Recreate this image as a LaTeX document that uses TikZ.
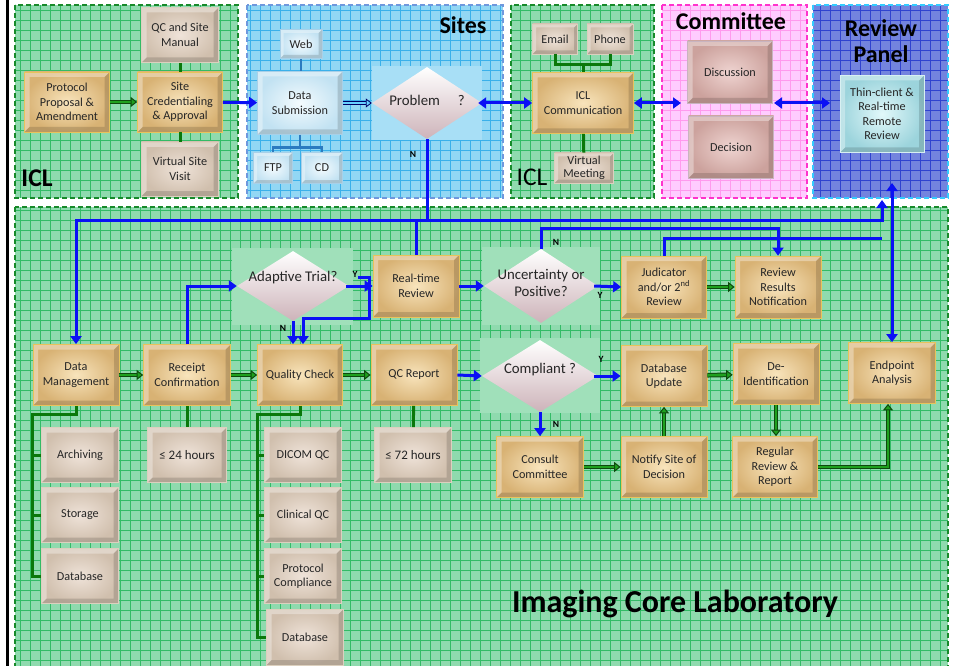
\documentclass[tikz,border=0pt]{standalone}
\usepackage{fontspec}
\setmainfont{Carlito}
\usetikzlibrary{shapes.geometric,arrows.meta,calc}
\definecolor{tanI}{HTML}{F8E4BC}\definecolor{tanO}{HTML}{D8B274}\definecolor{tanB}{HTML}{E8C35A}
\definecolor{gryI}{HTML}{EFE3D9}\definecolor{gryO}{HTML}{D0BFAD}\definecolor{gryB}{HTML}{DCD0BE}
\definecolor{bluI}{HTML}{F4FBFE}\definecolor{bluO}{HTML}{C2E2F2}\definecolor{bluB}{HTML}{A8D0E8}
\definecolor{pnkI}{HTML}{EFD4D1}\definecolor{pnkO}{HTML}{CCA29D}\definecolor{pnkB}{HTML}{C8B4C0}
\definecolor{cyaI}{HTML}{E2F8FA}\definecolor{cyaO}{HTML}{9CD4DC}\definecolor{cyaB}{HTML}{D8F0F2}
\definecolor{gFill}{HTML}{8FDAAE}\definecolor{gGrid}{HTML}{33BB66}\definecolor{gBorder}{HTML}{178A2A}
\definecolor{sFill}{HTML}{92D7F4}\definecolor{sGrid}{HTML}{3AB0EA}\definecolor{sBorder}{HTML}{6F98DD}
\definecolor{cFill}{HTML}{FFCCFF}\definecolor{cGrid}{HTML}{FF9AEE}\definecolor{cBorder}{HTML}{FF33CC}
\definecolor{rFill}{HTML}{7384DE}\definecolor{rGrid}{HTML}{2F43CF}\definecolor{rBorder}{HTML}{33CCFF}
\definecolor{myBlue}{HTML}{0A10F5}\definecolor{siteLine}{HTML}{2B7BC0}
\definecolor{gLine}{HTML}{0A780A}\definecolor{gDark}{HTML}{0D4A0D}\definecolor{gMid}{HTML}{1FA01F}
\definecolor{diaM}{HTML}{F6F0F2}\definecolor{diaB}{HTML}{CDB3B9}
\newcommand\mypanel[7]{%
  \fill[#5] (#1,#2) rectangle (#3,#4);
  \draw[#6, line width=0.5pt, step=10pt] (#1,#4) grid (#3,#2);
  \draw[#7, line width=1.4pt, dash pattern=on 5pt off 3pt] (#1,#2) rectangle (#3,#4);}
\begin{document}
\begin{tikzpicture}[x=1pt,y=-1pt,
  bevel/.style={path picture={
    \fill[white,opacity=0.35] (path picture bounding box.north west) -- (path picture bounding box.north east) -- ++(-#1,-#1) -- ($(path picture bounding box.north west)+(#1,-#1)$) -- ($(path picture bounding box.south west)+(#1,#1)$) -- (path picture bounding box.south west) -- cycle;
    \fill[black,opacity=0.14] (path picture bounding box.south west) -- (path picture bounding box.south east) -- (path picture bounding box.north east) -- ++(-#1,-#1) -- ($(path picture bounding box.south east)+(-#1,#1)$) -- ($(path picture bounding box.south west)+(#1,#1)$) -- cycle;
  }},
  bevel/.default=5pt,
  sz/.style 2 args={minimum width=#1pt, minimum height=#2pt},
  bx/.style={rectangle, line width=0.7pt, align=center, inner sep=1pt, text=black!85,
     font=\fontsize{12.2}{14.5}\selectfont},
  tan/.style={bx, draw=tanB, inner color=tanI, outer color=tanO, bevel},
  gry/.style={bx, draw=gryB, inner color=gryI, outer color=gryO, bevel},
  blu/.style={bx, draw=bluB, inner color=bluI, outer color=bluO, bevel},
  pnk/.style={bx, draw=pnkB, inner color=pnkI, outer color=pnkO, bevel},
  cya/.style={bx, draw=cyaB, inner color=cyaI, outer color=cyaO, bevel},
  dia/.style={diamond, draw=none, inner sep=0pt, top color=white, middle color=diaM, bottom color=diaB},
  dtext/.style={align=center, inner sep=0pt, text=black!85, font=\fontsize{14.8}{17}\selectfont},
  yn/.style={inner sep=0pt, font=\bfseries\fontsize{9.5}{10}\selectfont},
  ttl/.style={inner sep=0pt, align=center, font=\bfseries\fontsize{24}{27}\selectfont},
  bline/.style={draw=myBlue, line width=3pt},
  barrow/.style={bline, -{Triangle[length=8pt,width=11pt]}},
  bdarrow/.style={bline, {Triangle[length=8pt,width=11pt]}-{Triangle[length=8pt,width=11pt]}},
  gline/.style={draw=gLine, line width=3pt},
  sline/.style={draw=siteLine, line width=2.8pt},
  garrow/.style={draw=gDark, double=gMid, double distance=2.6pt, line width=1pt, -{Triangle[length=6.5pt,width=10pt,fill=gMid]}},
  sarrow/.style={draw=black!60!blue, double=blue!30!cyan!60, double distance=2.4pt, line width=0.8pt, -{Triangle[length=6pt,width=9pt,fill=blue!30!cyan!60]}},
]
\useasboundingbox (0,0) rectangle (953,666);
\fill[white] (0,0) rectangle (953,666);
\draw[black, line width=3pt] (7,0) -- (7,666);

% panels
\mypanel{15}{5}{238}{198}{gFill}{gGrid}{gBorder}
\mypanel{247}{5}{503}{198}{sFill}{sGrid}{sBorder}
\mypanel{511}{5}{654}{198}{gFill}{gGrid}{gBorder}
\mypanel{662}{5}{807}{198}{cFill}{cGrid}{cBorder}
\mypanel{813}{5}{948}{198}{rFill}{rGrid}{rBorder}
\mypanel{15}{207}{948}{680}{gFill}{gGrid}{gBorder}

% diamond backgrounds
\fill[sFill!80!white] (372,66) rectangle (482,140);
\fill[gFill!85!white] (232,248) rectangle (353,325);
\fill[gFill!85!white] (482,247) rectangle (600,325);
\fill[gFill!85!white] (480,338) rectangle (600,413);

% titles
\node[ttl, font=\bfseries\fontsize{25.5}{28}\selectfont] (iclA) at (37,178) {ICL};
\node[ttl, font=\fontsize{25.5}{28}\selectfont] (iclB) at (532,177) {ICL};
\node[ttl] (tSites) at (463,25) {Sites};
\node[ttl] (tCom) at (731,21) {Committee};
\node[ttl] (tRev) at (881,41) {Review\\[-1pt]Panel};
\node[ttl, font=\bfseries\fontsize{32}{34}\selectfont] (tICL) at (675,604) {Imaging Core Laboratory};

% ICL top-left
\node[tan, sz={85}{60}] (ppa) at (67,102) {Protocol\\Proposal \&\\Amendment};
\node[tan, sz={85}{60}] (scred) at (180,102) {Site\\Credentialing\\\& Approval};
\node[gry, sz={77}{55}] (qcm) at (180,35) {QC and Site\\Manual};
\node[gry, sz={77}{54}] (vsv) at (180,169) {Virtual Site\\Visit};

% Sites
\node[blu, sz={42}{29}, bevel=3.5pt] (web) at (301,44) {Web};
\node[blu, sz={85}{63}] (dsub) at (300,103) {Data\\Submission};
\node[blu, sz={39}{31}, bevel=3.5pt] (ftp) at (273,168) {FTP};
\node[blu, sz={41}{31}, bevel=3.5pt] (cd) at (322,168) {CD};
\node[dia, sz={110}{72}] (prob) at (427,103) {};
\node[dtext] (probT) at (427,100) {Problem\hspace{1.2em}?};

% ICL communication
\node[gry, sz={45}{30}, bevel=3.5pt] (email) at (555,39) {Email};
\node[gry, sz={46}{30}, bevel=3.5pt] (phone) at (610,39) {Phone};
\node[tan, sz={101}{61}] (iclc) at (583,103) {ICL\\Communication};
\node[gry, sz={59}{30}, bevel=3.5pt, font=\fontsize{12.2}{12.5}\selectfont] (vm) at (584,168) {Virtual\\Meeting};

% Committee
\node[pnk, sz={85}{62}] (disc) at (730,72) {Discussion};
\node[pnk, sz={85}{62}] (deci) at (731,147) {Decision};

% Review panel
\node[cya, sz={84}{77}] (thin) at (882,114) {Thin-client \&\\Real-time\\Remote\\Review};

% lower row 1
\node[dia, sz={112}{70}] (adt) at (293,286) {};
\node[dtext] (adtT) at (293,278) {Adaptive Trial?};
\node[tan, sz={86}{62}] (rtr) at (416,286) {Real-time\\Review};
\node[dia, sz={114}{74}] (unc) at (541,286) {};
\node[dtext] (uncT) at (541,283) {Uncertainty or\\Positive?};
\node[tan, sz={85}{62}] (jud) at (664,287) {Judicator\\and/or 2\textsuperscript{nd}\\Review};
\node[tan, sz={86}{62}] (rrn) at (778,287) {Review\\Results\\Notification};

% lower row 2
\node[tan, sz={86}{61}] (dm) at (76,375) {Data\\Management};
\node[tan, sz={87}{61}] (rc) at (187,375) {Receipt\\Confirmation};
\node[tan, sz={85}{61}] (qc) at (300,375) {Quality Check};
\node[tan, sz={86}{61}] (qcr) at (414,375) {QC Report};
\node[dia, sz={116}{72}] (comp) at (540,376) {};
\node[dtext] (compT) at (540,370) {Compliant ?};
\node[tan, sz={86}{61}] (dbu) at (664,376) {Database\\Update};
\node[tan, sz={86}{61}] (deid) at (776,374) {De-\\Identification};
\node[tan, sz={87}{61}] (ep) at (892,373) {Endpoint\\Analysis};

% lower row 3
\node[tan, sz={87}{61}] (cc) at (540,467) {Consult\\Committee};
\node[tan, sz={86}{61}] (nsd) at (664,467) {Notify Site of\\Decision};
\node[tan, sz={85}{61}] (rrr) at (775,467) {Regular\\Review \&\\Report};

% sub boxes
\node[gry, sz={77}{55}] (arch) at (80,455) {Archiving};
\node[gry, sz={77}{55}] (stor) at (80,515) {Storage};
\node[gry, sz={77}{55}] (dbA) at (80,576) {Database};
\node[gry, sz={79}{55}, font=\fontsize{13}{15}\selectfont] (h24) at (187,455) {≤ 24 hours};
\node[gry, sz={77}{55}] (dicom) at (303,455) {DICOM QC};
\node[gry, sz={77}{55}] (clin) at (303,515) {Clinical QC};
\node[gry, sz={77}{55}] (pcomp) at (303,576) {Protocol\\Compliance};
\node[gry, sz={77}{56}] (dbB) at (305,637) {Database};
\node[gry, sz={77}{55}, font=\fontsize{13}{15}\selectfont] (h72) at (413,455) {≤ 72 hours};

% coordinates for free ends
\coordinate (ef) at (583,65);
\coordinate (comL) at (681,103);
\coordinate (comR) at (774,103);
\coordinate (rpL) at (830,103);
\coordinate (hTop) at (882,220);
\coordinate (h2) at (882,238);
\coordinate (rpB) at (882,200);
\coordinate (rpE) at (892,183);
\coordinate (uN) at (778,228);
\coordinate (brA) at (358,277);
\coordinate (brB) at (369,318);
\coordinate (dmT) at (32,576);
\coordinate (qcT) at (257,637);

% connectors top
\draw[gline] (qcm) -- (scred);
\draw[gline] (scred) -- (vsv);
\draw[garrow] (ppa) -- (scred);
\draw[barrow] (scred) -- (dsub);
\draw[sline] (web.south) -- (web.south |- dsub.north);
\draw[sline] (dsub.south) -- ++(0,13) -| (ftp.north);
\draw[sline] (dsub.south) -- ++(0,13) -| (cd.north);
\draw[sarrow] (dsub) -- (prob.west);
\draw[bdarrow] ([xshift=-4pt]prob.east) -- (iclc.west);
\draw[gline] (email.south) |- (ef) -| (phone.south);
\draw[gline] (ef) -- (iclc.north);
\draw[gline] (iclc) -- (vm);
\draw[bdarrow] (iclc.east) -- (comL);
\draw[bdarrow] (comR) -- (rpL);

% blue network
\draw[bline] (prob.south) -- (prob.south |- hTop);
\draw[bdarrow] (dm.north) |- (hTop) -- (rpB);
\draw[bline] (rtr.north) -- (rtr.north |- hTop);
\draw[bline] (jud.north) |- (h2);
\draw[barrow] (unc.north) |- (uN) -- (rrn.north);
\draw[bdarrow] (rpE) -- (ep.north);

% row 1
\draw[barrow] (rc.north) |- (adt.west);
\draw[barrow] ([xshift=-3pt]adt.east) -- (rtr.west);
\draw[barrow] (adt.south) -- (adt.south |- qc.north);
\draw[barrow] (brA) -| (brB) -| ([xshift=3pt]qc.north);
\draw[barrow] (rtr.east) -- (unc.west);
\draw[barrow] ([xshift=-4pt]unc.east) -- (jud.west);
\draw[garrow] (jud) -- (rrn);

% row 2
\draw[garrow] (dm) -- (rc);
\draw[garrow] (rc) -- (qc);
\draw[garrow] (qc) -- (qcr);
\draw[barrow] (qcr.east) -- (comp.west);
\draw[barrow] ([xshift=-4pt]comp.east) -- (dbu.west);
\draw[barrow] (comp.south) -- (cc.north);
\draw[garrow] (cc) -- (nsd);
\draw[garrow] (nsd) -- (dbu);
\draw[garrow] (dbu) -- (deid);
\draw[garrow] (deid.south) -- (deid.south |- rrr.north);
\draw[garrow] (rrr.east) -| ([xshift=-4pt]ep.south);

% trees
\draw[gline] (dm.south) -- ++(0,9) -| (dmT) -- (dbA.west);
\draw[gline] (dmT |- arch.west) -- (arch.west);
\draw[gline] (dmT |- stor.west) -- (stor.west);
\draw[gline] (rc) -- (h24);
\draw[gline] (qc.south) -- ++(0,9) -| (qcT) -- (dbB.west);
\draw[gline] (qcT |- dicom.west) -- (dicom.west);
\draw[gline] (qcT |- clin.west) -- (clin.west);
\draw[gline] (qcT |- pcomp.west) -- (pcomp.west);
\draw[gline] (qcr) -- (h72);

% Y/N labels
\node[yn] (nProb) at (413,154) {N};
\node[yn] (yAdt) at (355,274) {Y};
\node[yn] (nAdt) at (283,328) {N};
\node[yn] (nUnc) at (556,242) {N};
\node[yn] (yUnc) at (600,295) {Y};
\node[yn] (yComp) at (601,359) {Y};
\node[yn] (nComp) at (556,424) {N};
\end{tikzpicture}
\end{document}
